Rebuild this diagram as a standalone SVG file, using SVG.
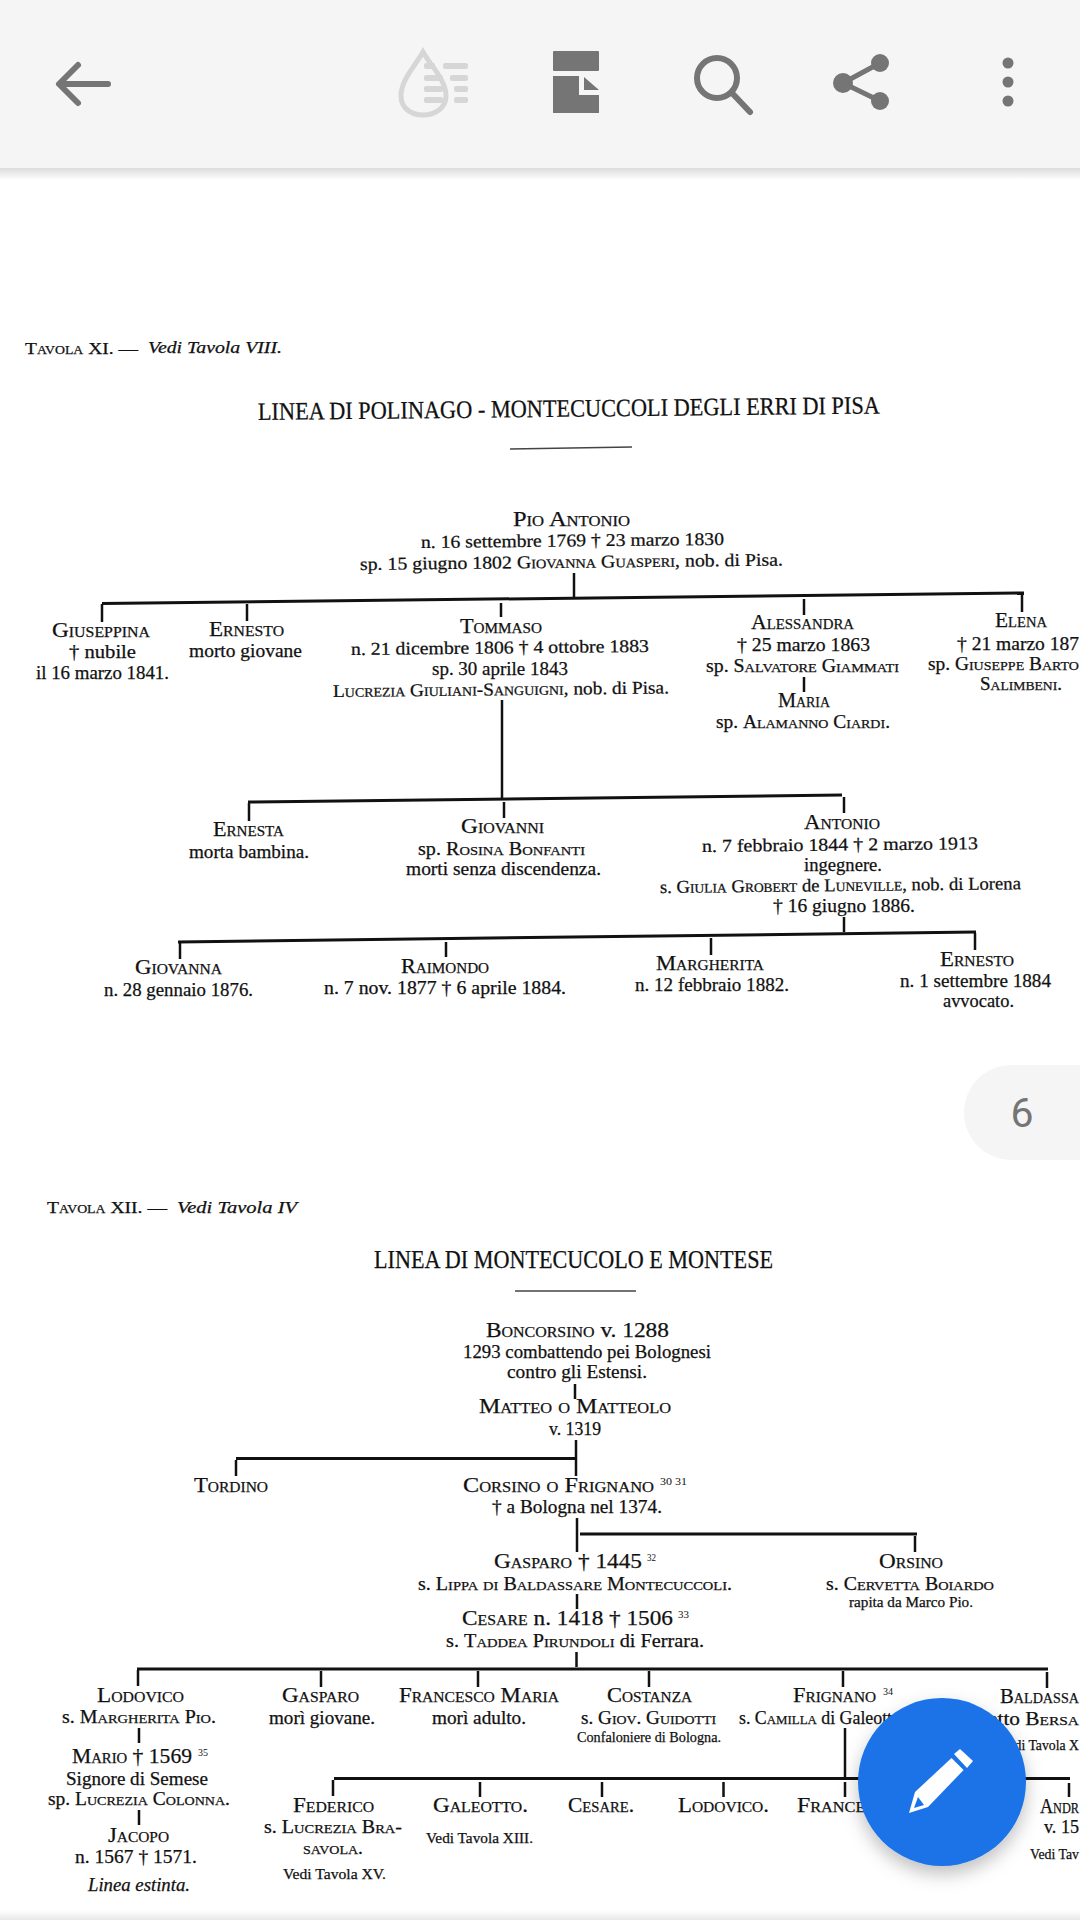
<svg xmlns="http://www.w3.org/2000/svg" width="1080" height="1920" viewBox="0 0 1080 1920">
<style>
text{font-family:"Liberation Serif","Times New Roman",serif;fill:#111;stroke:#111;stroke-width:.25}
.n{font-size:22px}
.s{font-size:18px}
.m{font-size:14.500px}
.u{font-size:10px;stroke-width:0}
.h{font-size:17px}
.i{font-size:17px;font-style:italic}
.t{font-size:25px}
.sc{font-variant:small-caps}
.b{stroke:#111;stroke-width:3;fill:none}
.l{stroke:#111;stroke-width:2.500;fill:none}
.r{stroke:#444;stroke-width:1.500;fill:none}
.ic{fill:#757575}
.is{stroke:#757575;fill:none;stroke-width:6;stroke-linecap:round;stroke-linejoin:round}
</style>
<defs>
<linearGradient id="barShade" x1="0" y1="0" x2="0" y2="1"><stop offset="0" stop-color="#dcdcdc"/><stop offset="1" stop-color="#ffffff"/></linearGradient>
<linearGradient id="botShade" x1="0" y1="0" x2="0" y2="1"><stop offset="0" stop-color="#ffffff"/><stop offset="1" stop-color="#e8e8e8"/></linearGradient>
<filter id="fabShadow" x="-30%" y="-30%" width="160%" height="170%"><feDropShadow dx="0" dy="8" stdDeviation="9" flood-color="#000" flood-opacity="0.25"/></filter>
</defs>
<rect width="1080" height="1920" fill="#fff"/>
<g id="page-tavola-xi">
<text class="h sc" x="25" y="354" textLength="113" lengthAdjust="spacingAndGlyphs">Tavola XI. —</text>
<text class="i" x="148" y="353" textLength="134" lengthAdjust="spacingAndGlyphs">Vedi Tavola VIII.</text>
<text class="t" x="258" y="420" textLength="622" lengthAdjust="spacingAndGlyphs" transform="rotate(-0.6 258 420)">LINEA DI POLINAGO - MONTECUCCOLI DEGLI ERRI DI PISA</text>
<path class="r" d="M510 449L632 447"/>
</g>
<g id="connectors">
<path class="l" d="M574 573V597"/>
<path class="b" d="M102 603.500L1024 593"/>
<path class="l" d="M102 604V622M247 604V621M501 603V617M804 599V615M1022 595V612M804 677V692"/>
<path class="l" d="M502 700V798"/>
<path class="b" d="M248 802L842 795"/>
<path class="l" d="M249 803V821M504 802V818M844 797V813"/>
<path class="l" d="M844 917V932"/>
<path class="b" d="M178 942L976 932"/>
<path class="l" d="M180 943V959M446 942V957M711 938V955M975 933V950"/>
<path class="l" d="M575 1384V1399M576 1440V1476"/>
<path class="b" d="M236 1458.500H576"/>
<path class="l" d="M236 1460V1476"/>
<path class="l" d="M577 1518V1552"/>
<path class="b" d="M580 1534H917"/>
<path class="l" d="M915 1536V1552M577 1594V1609M576.500 1652V1667"/>
<path class="b" d="M137 1669H1048"/>
<path class="l" d="M138 1670V1686M321 1671V1687M478 1671V1687M649 1671V1687M843 1671V1687M1047 1672V1688"/>
<path class="l" d="M139 1728V1743M139 1810V1825M845 1728V1777"/>
<path class="b" d="M334 1778.500H1070"/>
<path class="l" d="M333 1780V1796M480 1782V1797M602 1782V1797M723.500 1782V1797M845 1782V1797M1069 1783V1797"/>
<path class="r" d="M515 1291H636"/>
</g>
<g id="pio-antonio">
<text class="n sc" x="513" y="526" textLength="117" lengthAdjust="spacingAndGlyphs">Pio Antonio</text>
<text class="s" x="421" y="548" textLength="303" lengthAdjust="spacingAndGlyphs" transform="rotate(-0.6 421 548)">n. 16 settembre 1769 † 23 marzo 1830</text>
<text class="s" x="360" y="570" textLength="423" lengthAdjust="spacingAndGlyphs" transform="rotate(-0.6 360 570)">sp. 15 giugno 1802 <tspan class="sc">Giovanna Guasperi</tspan>, nob. di Pisa.</text>
</g>
<g id="giuseppina">
<text class="n sc" x="52" y="637" textLength="98" lengthAdjust="spacingAndGlyphs">Giuseppina</text>
<text class="s" x="69" y="658" textLength="67" lengthAdjust="spacingAndGlyphs">† nubile</text>
<text class="s" x="36" y="679" textLength="133" lengthAdjust="spacingAndGlyphs">il 16 marzo 1841.</text>
</g>
<g id="ernesto-1">
<text class="n sc" x="209" y="636" textLength="75" lengthAdjust="spacingAndGlyphs">Ernesto</text>
<text class="s" x="189" y="657" textLength="113" lengthAdjust="spacingAndGlyphs">morto giovane</text>
</g>
<g id="tommaso">
<text class="n sc" x="460" y="633" textLength="82" lengthAdjust="spacingAndGlyphs">Tommaso</text>
<text class="s" x="351" y="655" textLength="298" lengthAdjust="spacingAndGlyphs" transform="rotate(-0.6 351 655)">n. 21 dicembre 1806 † 4 ottobre 1883</text>
<text class="s" x="432" y="675" textLength="136" lengthAdjust="spacingAndGlyphs">sp. 30 aprile 1843</text>
<text class="s" x="333" y="697" textLength="336" lengthAdjust="spacingAndGlyphs" transform="rotate(-0.6 333 697)"><tspan class="sc">Lucrezia Giuliani-Sanguigni</tspan>, nob. di Pisa.</text>
</g>
<g id="alessandra">
<text class="n sc" x="751" y="629" textLength="103" lengthAdjust="spacingAndGlyphs">Alessandra</text>
<text class="s" x="737" y="651" textLength="133" lengthAdjust="spacingAndGlyphs">† 25 marzo 1863</text>
<text class="s" x="706" y="672" textLength="193" lengthAdjust="spacingAndGlyphs">sp. <tspan class="sc">Salvatore Giammati</tspan></text>
</g>
<g id="maria">
<text class="n sc" x="778" y="707" textLength="52" lengthAdjust="spacingAndGlyphs">Maria</text>
<text class="s" x="716" y="728" textLength="174" lengthAdjust="spacingAndGlyphs">sp. <tspan class="sc">Alamanno Ciardi.</tspan></text>
</g>
<g id="elena">
<text class="n sc" x="995" y="627" textLength="52" lengthAdjust="spacingAndGlyphs">Elena</text>
<text class="s" x="957" y="650" textLength="122" lengthAdjust="spacingAndGlyphs">† 21 marzo 187</text>
<text class="s" x="928" y="670" textLength="151" lengthAdjust="spacingAndGlyphs">sp. <tspan class="sc">Giuseppe Barto</tspan></text>
<text class="s sc" x="980" y="690" textLength="82" lengthAdjust="spacingAndGlyphs">Salimbeni.</text>
</g>
<g id="ernesta">
<text class="n sc" x="213" y="836" textLength="71" lengthAdjust="spacingAndGlyphs">Ernesta</text>
<text class="s" x="189" y="858" textLength="120" lengthAdjust="spacingAndGlyphs">morta bambina.</text>
</g>
<g id="giovanni">
<text class="n sc" x="461" y="833" textLength="83" lengthAdjust="spacingAndGlyphs">Giovanni</text>
<text class="s" x="418" y="855" textLength="167" lengthAdjust="spacingAndGlyphs">sp. <tspan class="sc">Rosina Bonfanti</tspan></text>
<text class="s" x="406" y="875" textLength="195" lengthAdjust="spacingAndGlyphs">morti senza discendenza.</text>
</g>
<g id="antonio">
<text class="n sc" x="804" y="829" textLength="76" lengthAdjust="spacingAndGlyphs">Antonio</text>
<text class="s" x="702" y="852" textLength="276" lengthAdjust="spacingAndGlyphs" transform="rotate(-0.6 702 852)">n. 7 febbraio 1844 † 2 marzo 1913</text>
<text class="s" x="804" y="871" textLength="78" lengthAdjust="spacingAndGlyphs">ingegnere.</text>
<text class="s" x="660" y="893" textLength="361" lengthAdjust="spacingAndGlyphs" transform="rotate(-0.6 660 893)">s. <tspan class="sc">Giulia Grobert</tspan> de <tspan class="sc">Luneville</tspan>, nob. di Lorena</text>
<text class="s" x="773" y="912" textLength="142" lengthAdjust="spacingAndGlyphs">† 16 giugno 1886.</text>
</g>
<g id="giovanna">
<text class="n sc" x="135" y="974" textLength="87" lengthAdjust="spacingAndGlyphs">Giovanna</text>
<text class="s" x="104" y="996" textLength="149" lengthAdjust="spacingAndGlyphs">n. 28 gennaio 1876.</text>
</g>
<g id="raimondo">
<text class="n sc" x="401" y="973" textLength="88" lengthAdjust="spacingAndGlyphs">Raimondo</text>
<text class="s" x="324" y="994" textLength="242" lengthAdjust="spacingAndGlyphs">n. 7 nov. 1877 † 6 aprile 1884.</text>
</g>
<g id="margherita">
<text class="n sc" x="656" y="970" textLength="108" lengthAdjust="spacingAndGlyphs">Margherita</text>
<text class="s" x="635" y="991" textLength="154" lengthAdjust="spacingAndGlyphs">n. 12 febbraio 1882.</text>
</g>
<g id="ernesto-2">
<text class="n sc" x="940" y="966" textLength="74" lengthAdjust="spacingAndGlyphs">Ernesto</text>
<text class="s" x="900" y="987" textLength="151" lengthAdjust="spacingAndGlyphs">n. 1 settembre 1884</text>
<text class="s" x="943" y="1007" textLength="71" lengthAdjust="spacingAndGlyphs">avvocato.</text>
</g>
<g id="page-tavola-xii">
<text class="h sc" x="47" y="1213" textLength="120" lengthAdjust="spacingAndGlyphs">Tavola XII. —</text>
<text class="i" x="177" y="1213" textLength="120" lengthAdjust="spacingAndGlyphs">Vedi Tavola IV</text>
<text class="t" x="374" y="1268" textLength="399" lengthAdjust="spacingAndGlyphs">LINEA DI MONTECUCOLO E MONTESE</text>
</g>
<g id="boncorsino">
<text class="n" x="486" y="1337" textLength="183" lengthAdjust="spacingAndGlyphs"><tspan class="sc">Boncorsino</tspan> v. 1288</text>
<text class="s" x="463" y="1358" textLength="248" lengthAdjust="spacingAndGlyphs">1293 combattendo pei Bolognesi</text>
<text class="s" x="507" y="1378" textLength="140" lengthAdjust="spacingAndGlyphs">contro gli Estensi.</text>
</g>
<g id="matteo">
<text class="n sc" x="479" y="1413" textLength="192" lengthAdjust="spacingAndGlyphs">Matteo o Matteolo</text>
<text class="s" x="549" y="1435" textLength="52" lengthAdjust="spacingAndGlyphs">v. 1319</text>
</g>
<g id="tordino">
<text class="n sc" x="194" y="1492" textLength="74" lengthAdjust="spacingAndGlyphs">Tordino</text>
</g>
<g id="corsino">
<text class="n sc" x="463" y="1492" textLength="191" lengthAdjust="spacingAndGlyphs">Corsino o Frignano</text>
<text class="u" x="660" y="1485" textLength="27" lengthAdjust="spacingAndGlyphs">30 31</text>
<text class="s" x="492" y="1513" textLength="170" lengthAdjust="spacingAndGlyphs">† a Bologna nel 1374.</text>
</g>
<g id="gasparo-1445">
<text class="n" x="494" y="1568" textLength="148" lengthAdjust="spacingAndGlyphs"><tspan class="sc">Gasparo</tspan> † 1445</text>
<text class="u" x="647" y="1561" textLength="9" lengthAdjust="spacingAndGlyphs">32</text>
<text class="s" x="418" y="1590" textLength="314" lengthAdjust="spacingAndGlyphs">s. <tspan class="sc">Lippa di Baldassare Montecuccoli.</tspan></text>
</g>
<g id="orsino">
<text class="n sc" x="879" y="1568" textLength="64" lengthAdjust="spacingAndGlyphs">Orsino</text>
<text class="s" x="826" y="1590" textLength="168" lengthAdjust="spacingAndGlyphs">s. <tspan class="sc">Cervetta Boiardo</tspan></text>
<text class="m" x="849" y="1607" textLength="124" lengthAdjust="spacingAndGlyphs">rapita da Marco Pio.</text>
</g>
<g id="cesare-1418">
<text class="n" x="462" y="1625" textLength="211" lengthAdjust="spacingAndGlyphs"><tspan class="sc">Cesare</tspan> n. 1418 † 1506</text>
<text class="u" x="678" y="1618" textLength="11" lengthAdjust="spacingAndGlyphs">33</text>
<text class="s" x="446" y="1647" textLength="258" lengthAdjust="spacingAndGlyphs">s. <tspan class="sc">Taddea Pirundoli</tspan> di Ferrara.</text>
</g>
<g id="lodovico">
<text class="n sc" x="97" y="1702" textLength="87" lengthAdjust="spacingAndGlyphs">Lodovico</text>
<text class="s" x="62" y="1723" textLength="154" lengthAdjust="spacingAndGlyphs">s. <tspan class="sc">Margherita Pio.</tspan></text>
</g>
<g id="mario">
<text class="n" x="72" y="1763" textLength="120" lengthAdjust="spacingAndGlyphs"><tspan class="sc">Mario</tspan> † 1569</text>
<text class="u" x="198" y="1756" textLength="10" lengthAdjust="spacingAndGlyphs">35</text>
<text class="s" x="66" y="1785" textLength="142" lengthAdjust="spacingAndGlyphs">Signore di Semese</text>
<text class="s" x="48" y="1805" textLength="182" lengthAdjust="spacingAndGlyphs">sp. <tspan class="sc">Lucrezia Colonna.</tspan></text>
</g>
<g id="jacopo">
<text class="n sc" x="108" y="1842" textLength="61" lengthAdjust="spacingAndGlyphs">Jacopo</text>
<text class="s" x="75" y="1863" textLength="122" lengthAdjust="spacingAndGlyphs">n. 1567 † 1571.</text>
<text class="s" x="88" y="1891" textLength="102" lengthAdjust="spacingAndGlyphs" font-style="italic">Linea estinta.</text>
</g>
<g id="gasparo-2">
<text class="n sc" x="282" y="1702" textLength="77" lengthAdjust="spacingAndGlyphs">Gasparo</text>
<text class="s" x="269" y="1724" textLength="106" lengthAdjust="spacingAndGlyphs">morì giovane.</text>
</g>
<g id="francesco-maria">
<text class="n sc" x="399" y="1702" textLength="160" lengthAdjust="spacingAndGlyphs">Francesco Maria</text>
<text class="s" x="432" y="1724" textLength="94" lengthAdjust="spacingAndGlyphs">morì adulto.</text>
</g>
<g id="costanza">
<text class="n sc" x="607" y="1702" textLength="85" lengthAdjust="spacingAndGlyphs">Costanza</text>
<text class="s" x="581" y="1724" textLength="135" lengthAdjust="spacingAndGlyphs">s. <tspan class="sc">Giov. Guidotti</tspan></text>
<text class="m" x="577" y="1742" textLength="144" lengthAdjust="spacingAndGlyphs">Confaloniere di Bologna.</text>
</g>
<g id="frignano">
<text class="n sc" x="793" y="1702" textLength="83" lengthAdjust="spacingAndGlyphs">Frignano</text>
<text class="u" x="883" y="1695" textLength="10" lengthAdjust="spacingAndGlyphs">34</text>
<text class="s" x="739" y="1724" textLength="162" lengthAdjust="spacingAndGlyphs">s. <tspan class="sc">Camilla</tspan> di Galeotto</text>
</g>
<g id="baldassare">
<text class="n sc" x="1000" y="1703" textLength="79" lengthAdjust="spacingAndGlyphs">Baldassa</text>
<text class="s" x="988" y="1725" textLength="91" lengthAdjust="spacingAndGlyphs">etto <tspan class="sc">Bersa</tspan></text>
<text class="m" x="1000" y="1750" textLength="79" lengthAdjust="spacingAndGlyphs">Vedi Tavola X</text>
</g>
<g id="federico">
<text class="n sc" x="293" y="1812" textLength="81" lengthAdjust="spacingAndGlyphs">Federico</text>
<text class="s" x="264" y="1833" textLength="138" lengthAdjust="spacingAndGlyphs">s. <tspan class="sc">Lucrezia Bra-</tspan></text>
<text class="m sc" x="303" y="1854" textLength="60" lengthAdjust="spacingAndGlyphs" style="font-size:18px">savola.</text>
<text class="m" x="283" y="1879" textLength="103" lengthAdjust="spacingAndGlyphs">Vedi Tavola XV.</text>
</g>
<g id="galeotto">
<text class="n sc" x="433" y="1812" textLength="95" lengthAdjust="spacingAndGlyphs">Galeotto.</text>
<text class="m" x="426" y="1843" textLength="107" lengthAdjust="spacingAndGlyphs">Vedi Tavola XIII.</text>
</g>
<g id="cesare-2">
<text class="n sc" x="568" y="1812" textLength="66" lengthAdjust="spacingAndGlyphs">Cesare.</text>
</g>
<g id="lodovico-2">
<text class="n sc" x="678" y="1812" textLength="91" lengthAdjust="spacingAndGlyphs">Lodovico.</text>
</g>
<g id="francesco-2">
<text class="n sc" x="797" y="1812" textLength="100" lengthAdjust="spacingAndGlyphs">Francesco</text>
</g>
<g id="andrea">
<text class="n sc" x="1040" y="1813" textLength="39" lengthAdjust="spacingAndGlyphs">Andr</text>
<text class="s" x="1044" y="1833" textLength="35" lengthAdjust="spacingAndGlyphs">v. 15</text>
<text class="m" x="1030" y="1859" textLength="49" lengthAdjust="spacingAndGlyphs">Vedi Tav</text>
</g>
<rect id="bottom-shade" x="0" y="1910" width="1080" height="10" fill="url(#botShade)"/>
<g id="top-bar">
<rect x="0" y="168" width="1080" height="12" fill="url(#barShade)"/>
<rect x="0" y="0" width="1080" height="168" fill="#f5f5f5"/>
<path class="is" d="M108 84H60M78 65L59 84L78 103"/>
<g id="icon-read" fill="#d6d6d6">
<path d="M423 52C415 66 401 80 401 96C401 108 411 115 423 115C435 115 446 108 446 96C446 80 431 66 423 52Z" fill="none" stroke="#d6d6d6" stroke-width="5"/>
<rect x="424" y="63" width="11" height="6" rx="2"/><rect x="443" y="63" width="25" height="6" rx="2"/>
<rect x="424" y="75" width="19" height="6" rx="2"/><rect x="450" y="75" width="18" height="6" rx="2"/>
<rect x="424" y="86" width="19" height="6" rx="2"/><rect x="454" y="86" width="14" height="6" rx="2"/>
<rect x="424" y="97" width="19" height="6" rx="2"/><rect x="454" y="97" width="14" height="6" rx="2"/>
</g>
<g id="icon-doc" class="ic">
<rect x="553" y="51" width="46" height="20" rx="1"/>
<path d="M553 76H579V95H599V113H553Z"/>
<path d="M584 77L599 90H584Z"/>
</g>
<g id="icon-search"><circle class="is" cx="717" cy="78" r="20"/><path class="is" d="M732 93L750 112"/></g>
<g id="icon-share" class="ic"><circle cx="880" cy="63" r="9"/><circle cx="843" cy="83" r="10"/><circle cx="880" cy="101" r="9"/><path class="is" style="stroke-width:5" d="M880 63L843 83L880 101"/></g>
<g id="icon-more" class="ic"><circle cx="1008" cy="63" r="5.500"/><circle cx="1008" cy="82" r="5.500"/><circle cx="1008" cy="101" r="5.500"/></g>
</g>
<g id="page-pill">
<path d="M1080 1065H1012C985 1065 964 1086 964 1112.500C964 1139 985 1160 1012 1160H1080Z" fill="#f5f5f5"/>
<text x="1022" y="1127" text-anchor="middle" style="font-family:Roboto,'Liberation Sans',sans-serif;font-size:41px;fill:#757575;stroke:none">6</text>
</g>
<g id="fab">
<circle cx="942" cy="1782" r="84" fill="#1a73e8" filter="url(#fabShadow)"/>
<path d="M954 1754L960 1749L973 1761L967 1768Z" fill="#fff"/>
<path d="M951.500 1758L963.600 1770L928 1807L909 1813L915 1792Z" fill="#fff"/>
<path d="M918 1797L924 1805L914 1808Z" fill="#1a73e8"/>
</g>
</svg>
